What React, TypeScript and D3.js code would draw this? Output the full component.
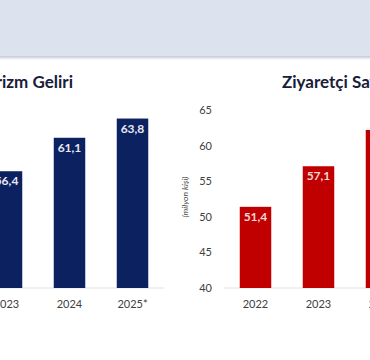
import React from "react";
import * as d3 from "d3";

const incomeYears = ["2023", "2024", "2025*"];
const incomeValues = [56.4, 61.1, 63.8];
const visitorYears = ["2022", "2023", "2024"];
const visitorValues = [51.4, 57.1, 62.2];
const yTicks = [40, 45, 50, 55, 60, 65];

const fmt = (v: number) => v.toFixed(1).replace(".", ",");

const App = () => {
  const width = 370;
  const height = 360;
  const font = "Lato, 'Open Sans', sans-serif";

  const y = d3.scaleLinear().domain([40, 65]).range([288, 110]);

  const xLeft = d3
    .scaleBand()
    .domain(incomeYears)
    .range([-25, 164])
    .paddingInner(0.5)
    .paddingOuter(0.25);

  const xRight = d3
    .scaleBand()
    .domain(visitorYears)
    .range([224, 413])
    .paddingInner(0.5)
    .paddingOuter(0.25);

  const renderBars = (
    x: d3.ScaleBand<string>,
    cats: string[],
    vals: number[],
    color: string,
    labelColor: string
  ) =>
    cats.map((c, i) => (
      <g key={c}>
        <rect
          x={x(c)}
          y={y(vals[i])}
          width={x.bandwidth()}
          height={y(40) - y(vals[i])}
          fill={color}
        />
        <text
          x={(x(c) as number) + x.bandwidth() / 2}
          y={y(vals[i]) + 14}
          textAnchor="middle"
          fontSize={12}
          fontWeight="bold"
          fill={labelColor}
        >
          {fmt(vals[i])}
        </text>
        <text
          x={(x(c) as number) + x.bandwidth() / 2}
          y={308}
          textAnchor="middle"
          fontSize={11}
          fill="#404040"
        >
          {c}
        </text>
      </g>
    ));

  return (
    <svg
      width={width}
      height={height}
      style={{ position: "absolute", left: 0, top: 0, fontFamily: font }}
    >
      <defs>
        <linearGradient id="shade" x1="0" y1="0" x2="0" y2="1">
          <stop offset="0" stopColor="#c4c8cf" />
          <stop offset="1" stopColor="#ffffff" />
        </linearGradient>
      </defs>
      <rect x={0} y={0} width={width} height={height} fill="#ffffff" />
      <rect x={0} y={0} width={width} height={56} fill="#dce3ef" />
      <rect x={0} y={56} width={width} height={4} fill="url(#shade)" />

      <text x={73} y={88} textAnchor="end" fontSize={17} fontWeight="bold" fill="#17203a">
        Turizm Geliri
      </text>
      <text x={282} y={88} fontSize={17} fontWeight="bold" fill="#17203a">
        Ziyaretçi Sayısı
      </text>

      {/* baselines */}
      <line x1={-25} x2={164} y1={y(40)} y2={y(40)} stroke="#e3e3e3" />
      <line x1={224} x2={413} y1={y(40)} y2={y(40)} stroke="#e3e3e3" />

      {/* right y axis */}
      {yTicks.map((t) => (
        <text
          key={t}
          x={212}
          y={y(t) + 4}
          textAnchor="end"
          fontSize={11}
          fill="#404040"
        >
          {t}
        </text>
      ))}
      <text
        transform={`translate(188, 197) rotate(-90)`}
        textAnchor="middle"
        fontSize={8.5}
        fontStyle="italic"
        fill="#404040"
      >
        (milyon kişi)
      </text>

      {renderBars(xLeft, incomeYears, incomeValues, "#0c2160", "#e6e9f2")}
      {renderBars(xRight, visitorYears, visitorValues, "#c00000", "#f6d6d6")}
    </svg>
  );
};

export default App;
